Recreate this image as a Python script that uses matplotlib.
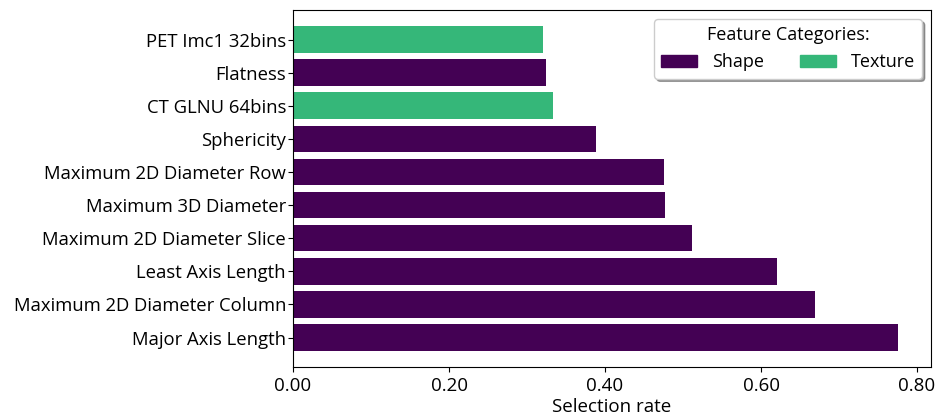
import numpy as np
import matplotlib.pyplot as plt
from matplotlib.patches import Patch

plt.rcParams['font.family'] = ['Open Sans', 'DejaVu Sans']

features = ['Major Axis Length', 'Maximum 2D Diameter Column', 'Least Axis Length',
            'Maximum 2D Diameter Slice', 'Maximum 3D Diameter', 'Maximum 2D Diameter Row',
            'Sphericity', 'CT GLNU 64bins', 'Flatness', 'PET Imc1 32bins']
rates = [0.776, 0.669, 0.620, 0.511, 0.477, 0.476, 0.389, 0.333, 0.324, 0.321]
categories = ['Shape', 'Shape', 'Shape', 'Shape', 'Shape', 'Shape',
              'Shape', 'Texture', 'Shape', 'Texture']
cat_colors = {'Shape': '#440154', 'Texture': '#35b779'}

fig, ax = plt.subplots(figsize=(9.38, 4.18), dpi=100)
fig.subplots_adjust(left=0.3124, right=0.9925, top=0.976, bottom=0.122)

y = np.arange(len(features))
ax.barh(y, rates, height=0.8, color=[cat_colors[c] for c in categories])
ax.set_yticks(y)
ax.set_yticklabels(features, fontsize=13.3)
ax.tick_params(axis='y', pad=1.5)
ax.set_xlim(0, max(rates) * 1.054)
ax.set_xticks([0, 0.2, 0.4, 0.6, 0.8])
ax.set_xticklabels(['%.2f' % v for v in [0, 0.2, 0.4, 0.6, 0.8]], fontsize=13.5)
ax.set_xlabel('Selection rate', fontsize=13.5, labelpad=2)

handles = [Patch(color=cat_colors[c], label=c) for c in ['Shape', 'Texture']]
leg = ax.legend(handles=handles, title='Feature Categories:', ncol=2, loc='upper right',
                fontsize=13, title_fontsize=13, shadow=True, fancybox=True)

fig.savefig('out.png', dpi=100)
